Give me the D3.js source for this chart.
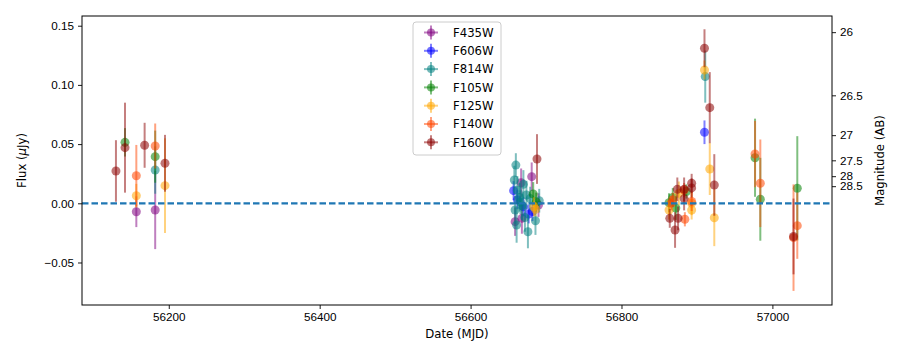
<!DOCTYPE html>
<html>
<head>
<meta charset="utf-8">
<script src="https://cdn.jsdelivr.net/npm/d3@7"></script>
<style>
	body { margin: 0; background: #fff; }
	svg { font-family: 'DejaVu Sans', sans-serif; }
</style>
</head>
<body>
<svg id="chart"></svg>
<script>
// observations per filter: [mjd, flux (uJy), error]
const f435w = [[56157, -0.0071, 0.013], [56182, -0.0057, 0.033], [56667, 0.0174, 0.012], [56681, 0.0225, 0.012],
	[56659, -0.0155, 0.012], [56668, -0.0127, 0.013], [56690, -0.0015, 0.010]];
const f606w = [[56657, 0.0107, 0.008], [56677, -0.009, 0.008], [56682, -0.007, 0.008], [56662, 0.003, 0.008],
	[56670, -0.003, 0.008], [56910, 0.060, 0.010]];
const f814w = [[56182, 0.0281, 0.020], [56660, 0.0323, 0.010], [56658, 0.0197, 0.012], [56662, 0.011, 0.012],
	[56665, 0.005, 0.012], [56670, 0.016, 0.012], [56674, 0.007, 0.012], [56659, -0.0057, 0.012],
	[56661, -0.0183, 0.015], [56676, -0.024, 0.014], [56686, -0.0147, 0.012], [56691, 0.0022, 0.010],
	[56668, -0.002, 0.012], [56666, 0.001, 0.010], [56679, 0.004, 0.010], [56672, -0.012, 0.012],
	[56911, 0.107, 0.022]];
const f105w = [[56142, 0.0515, 0.012], [56182, 0.0394, 0.022], [56683, 0.0079, 0.010], [56687, 0.001, 0.008],
	[56863, 0.0005, 0.008], [56868, 0.005, 0.008], [56872, -0.004, 0.010], [56886, 0.010, 0.006],
	[56977, 0.0385, 0.033], [56984, 0.0034, 0.035], [57033, 0.0127, 0.044]];
const f125w = [[56157, 0.0064, 0.010], [56195, 0.0149, 0.040], [56684, -0.0029, 0.008], [56686, -0.005, 0.006],
	[56863, -0.0057, 0.008], [56876, 0.0084, 0.010], [56893, 0.000, 0.010], [56893, -0.0057, 0.008],
	[56910, 0.1126, 0.008], [56917, 0.029, 0.022], [56923, -0.0122, 0.024]];
const f140w = [[56157, 0.0233, 0.026], [56182, 0.0484, 0.019], [56866, 0.000, 0.006], [56883, 0.0112, 0.006],
	[56893, 0.0015, 0.008], [56884, -0.0135, 0.006], [56868, 0.003, 0.006],
	[56977, 0.0416, 0.028], [56984, 0.0169, 0.037], [57033, -0.0189, 0.028], [57028, -0.029, 0.045]];
const f160w = [[56130, 0.0273, 0.026], [56142, 0.047, 0.038], [56168, 0.049, 0.019], [56195, 0.0338, 0.024],
	[56688, 0.0374, 0.021], [56864, -0.0127, 0.008], [56875, -0.0127, 0.010], [56871, -0.0226, 0.015],
	[56874, 0.0118, 0.010], [56883, 0.0118, 0.010], [56883, 0.004, 0.010], [56893, 0.0169, 0.008],
	[56893, 0.013, 0.008], [56910, 0.131, 0.016], [56917, 0.0808, 0.030], [56923, 0.0155, 0.026],
	[57028, -0.028, 0.032]];

const filters = ['F435W', 'F606W', 'F814W', 'F105W', 'F125W', 'F140W', 'F160W'];
const colours = ['purple', 'blue', 'teal', 'green', 'orange', 'orangered', 'darkred'];
const series = [f435w, f606w, f814w, f105w, f125w, f140w, f160w];

const yTicks = [-0.05, 0.00, 0.05, 0.10, 0.15];
const xTicks = [56200, 56400, 56600, 56800, 57000];
const magTicks = [26, 26.5, 27, 27.5, 28, 28.5];

const width = 900, height = 356;
const m = {left: 82, right: 68, top: 16, bottom: 51};
const fs = 11.7;

const svg = d3.select('#chart').attr('width', width).attr('height', height);

const x = d3.scaleLinear().domain([56085, 57079]).range([m.left, width - m.right]);
const y = d3.scaleLinear().domain([-0.0859, 0.1582]).range([height - m.bottom, m.top]);

// AB magnitude -> flux in uJy
const magToFlux = mag => Math.pow(10, (23.9 - mag) / 2.5);

function styleAxis(g) {
	g.select('.domain').remove();
	g.selectAll('.tick line').attr('stroke', '#000').attr('stroke-width', 0.9);
	g.selectAll('.tick text').attr('font-size', fs).attr('fill', '#000');
}

svg.append('g')
	.attr('transform', `translate(0,${height - m.bottom})`)
	.call(d3.axisBottom(x).tickValues(xTicks).tickFormat(d3.format('d')).tickSize(4).tickPadding(4))
	.call(styleAxis);

svg.append('g')
	.attr('transform', `translate(${m.left},0)`)
	.call(d3.axisLeft(y).tickValues(yTicks).tickFormat(d3.format('.2f')).tickSize(4).tickPadding(4))
	.call(styleAxis);

// magnitude axis on the right, placed through the flux scale
const mag = d3.scaleLinear().domain(y.domain()).range(y.range());
svg.append('g')
	.attr('transform', `translate(${width - m.right},0)`)
	.call(d3.axisRight(mag).tickValues(magTicks.map(magToFlux))
		.tickFormat((d, i) => magTicks[i]).tickSize(4).tickPadding(4))
	.call(styleAxis);

const plot = svg.append('g');

series.forEach((s, i) => {
	const g = plot.append('g');
	g.selectAll('line')
		.data(s)
		.enter().append('line')
			.attr('x1', d => x(d[0]))
			.attr('x2', d => x(d[0]))
			.attr('y1', d => y(d[1] - d[2]))
			.attr('y2', d => y(d[1] + d[2]))
			.attr('stroke', colours[i])
			.attr('stroke-width', 2)
			.attr('stroke-opacity', 0.5);
	g.selectAll('circle')
		.data(s)
		.enter().append('circle')
			.attr('cx', d => x(d[0]))
			.attr('cy', d => y(d[1]))
			.attr('r', 4.5)
			.attr('fill', colours[i])
			.attr('fill-opacity', 0.55);
});

// zero line
svg.append('line')
	.attr('x1', m.left).attr('x2', width - m.right)
	.attr('y1', y(0)).attr('y2', y(0))
	.attr('stroke', '#1f77b4')
	.attr('stroke-width', 2.3)
	.attr('stroke-dasharray', '6.5,3');

// frame
svg.append('rect')
	.attr('x', m.left).attr('y', m.top)
	.attr('width', width - m.left - m.right)
	.attr('height', height - m.top - m.bottom)
	.attr('fill', 'none')
	.attr('stroke', '#000')
	.attr('stroke-width', 1);

// axis labels
svg.append('text')
	.attr('x', (m.left + width - m.right) / 2)
	.attr('y', 338)
	.attr('text-anchor', 'middle')
	.attr('font-size', fs)
	.text('Date (MJD)');

const ylab = svg.append('text')
	.attr('transform', `translate(26,${(m.top + height - m.bottom) / 2}) rotate(-90)`)
	.attr('text-anchor', 'middle')
	.attr('font-size', fs);
ylab.append('tspan').text('Flux (');
ylab.append('tspan').attr('font-style', 'italic').text('μ');
ylab.append('tspan').text('Jy)');

svg.append('text')
	.attr('transform', `translate(884,${(m.top + height - m.bottom) / 2}) rotate(-90)`)
	.attr('text-anchor', 'middle')
	.attr('font-size', fs)
	.text('Magnitude (AB)');

// legend
const legend = svg.append('g').attr('transform', 'translate(413,22)');
legend.append('rect')
	.attr('width', 88).attr('height', 133)
	.attr('rx', 3)
	.attr('fill', '#fff').attr('fill-opacity', 0.8)
	.attr('stroke', '#ccc');

const items = legend.selectAll('g.item')
	.data(filters)
	.enter().append('g')
		.attr('class', 'item')
		.attr('transform', (d, i) => `translate(18,${10.5 + i * 18.3})`);
items.append('line').attr('x1', -7).attr('x2', 7)
	.attr('stroke', (d, i) => colours[i]).attr('stroke-width', 2).attr('stroke-opacity', 0.5);
items.append('line').attr('y1', -7).attr('y2', 7)
	.attr('stroke', (d, i) => colours[i]).attr('stroke-width', 2).attr('stroke-opacity', 0.5);
items.append('circle').attr('r', 4)
	.attr('fill', (d, i) => colours[i]).attr('fill-opacity', 0.55);
items.append('text')
	.attr('x', 22).attr('y', 4.2)
	.attr('font-size', fs)
	.text(d => d);
</script>
</body>
</html>
